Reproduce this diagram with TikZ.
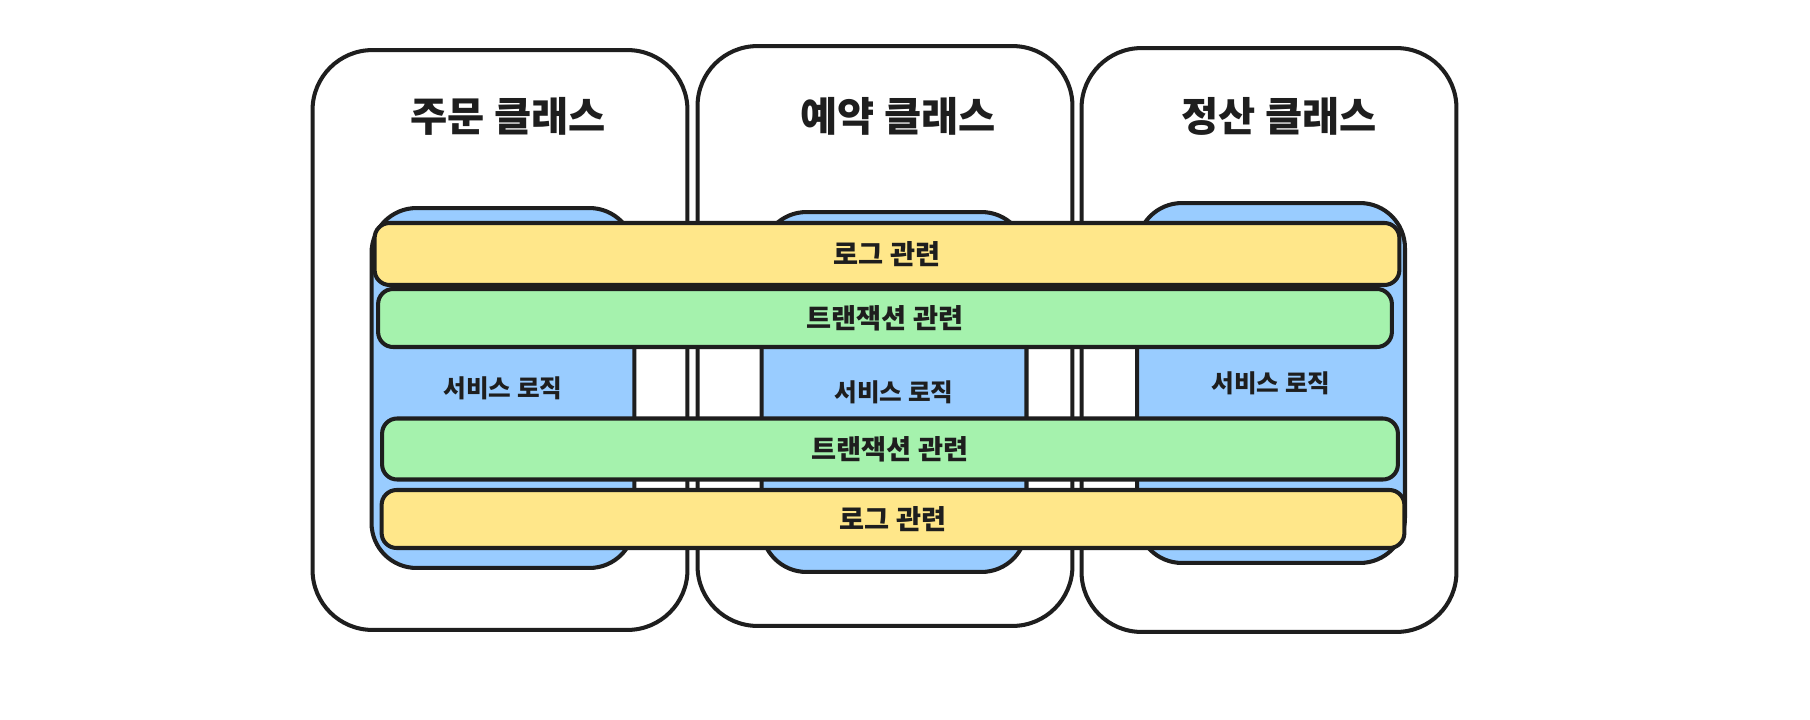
\documentclass[tikz,border=0pt]{standalone}
\usepackage{fontspec}
\setmainfont{Noto Sans CJK KR}
\usepackage{tikz}
\usetikzlibrary{positioning}
\definecolor{ink}{HTML}{1E1E1E}
\definecolor{svcblue}{HTML}{99CCFF}
\definecolor{logyellow}{HTML}{FFE78A}
\definecolor{txgreen}{HTML}{A5F2AD}

\begin{document}
\begin{tikzpicture}[x=0.02cm,y=-0.02cm,
    every path/.style={line width=2.3pt},
    classbox/.style={draw=ink,fill=white,rounded corners=1.2cm,inner sep=0pt,minimum width=7.5cm,minimum height=11.6cm},
    svcbox/.style={draw=ink,fill=svcblue,rounded corners=0.9cm,inner sep=0pt,minimum height=7.2cm,font=\bfseries\fontsize{14}{16}\selectfont,text=ink},
    band/.style={draw=ink,rounded corners=0.3cm,inner sep=0pt,font=\bfseries\fontsize{15.5}{18}\selectfont,text=ink},
    title/.style={font=\bfseries\fontsize{23}{26}\selectfont,text=ink}]
  \path[use as bounding box] (0,0) rectangle (1810,720);

  % class boxes
  \node[classbox] (C1) at (500,340) {};
  \node[classbox] (C2) at (885,336) {};
  \node[classbox,minimum height=11.68cm] (C3) at (1269,340) {};
  \node[title] (T1) at (508,116) {주문 클래스};
  \node[title] (T2) at (898,116) {예약 클래스};
  \node[title] (T3) at (1279,116) {정산 클래스};

  % service logic
  \node[svcbox,minimum width=5.26cm] (S1) at (503,388) {서비스 로직};
  \node[svcbox,minimum width=5.3cm] (S2) at (894,392) {서비스 로직};
  \node[svcbox,minimum width=5.36cm] (S3) at (1271,383) {서비스 로직};

  % cross-cutting bands
  \node[band,fill=logyellow,minimum width=20.5cm,minimum height=1.24cm] (L1) at (887,254) {로그 관련};
  \node[band,fill=txgreen,minimum width=20.28cm,minimum height=1.16cm] (X1) at (885,318) {트랜잭션 관련};
  \node[band,fill=txgreen,minimum width=20.32cm,minimum height=1.22cm] (X2) at (890,449) {트랜잭션 관련};
  \node[band,fill=logyellow,minimum width=20.46cm,minimum height=1.16cm] (L2) at (893,519) {로그 관련};
\end{tikzpicture}
\end{document}
